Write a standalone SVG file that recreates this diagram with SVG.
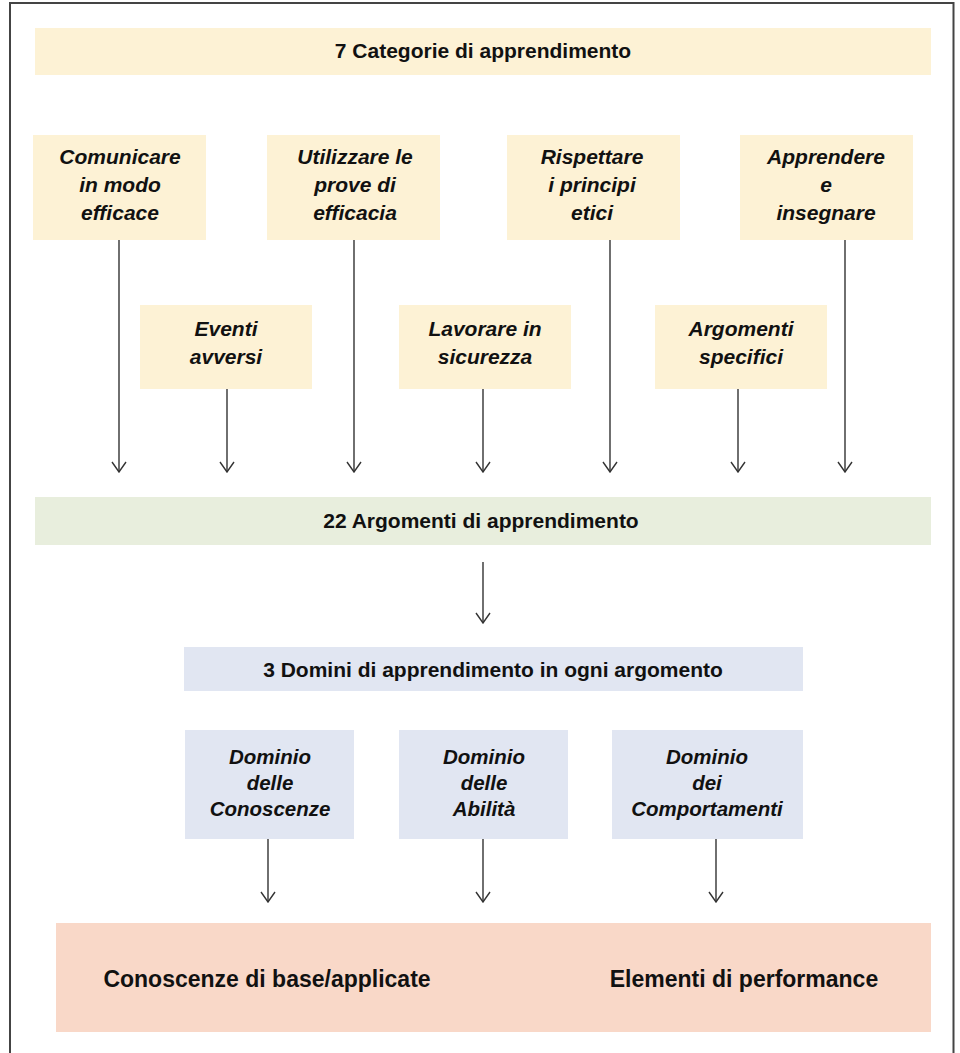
<svg xmlns="http://www.w3.org/2000/svg" width="960" height="1053" viewBox="0 0 960 1053">
<style>
.t{font-family:"Liberation Sans",Arial,sans-serif;font-weight:bold;fill:#111;text-anchor:middle}
.h{font-size:21px}
.i{font-size:21px;font-style:italic}
.d{font-size:20.5px;font-style:italic}
.p{font-size:23px}
.y{fill:#fdf2d5}
.g{fill:#e8eedd}
.b{fill:#e1e6f2}
.k{fill:#f9d8c8}
.c{stroke:#333;stroke-width:1.4;fill:none}
</style>
<defs>
<marker id="ah" viewBox="0 0 16 12" refX="8" refY="11" markerWidth="16" markerHeight="12" markerUnits="userSpaceOnUse" orient="0">
<path d="M1,1 L8,11 L15,1" fill="none" stroke="#333" stroke-width="1.4"/>
</marker>
</defs>
<rect x="0" y="0" width="960" height="1053" fill="#fff"/>
<path d="M10,1060 V3 H953.5 V1060" fill="none" stroke="#444" stroke-width="2"/>

<g id="cat7"><rect class="y" x="35" y="28" width="896" height="47"/><text class="t h" x="483" y="58">7 Categorie di apprendimento</text></g>

<g id="comunicare"><rect class="y" x="33" y="135" width="173" height="105"/><text class="t i" x="120"><tspan x="120" y="164">Comunicare</tspan><tspan x="120" y="192">in modo</tspan><tspan x="120" y="220">efficace</tspan></text></g>
<g id="utilizzare"><rect class="y" x="267" y="135" width="173" height="105"/><text class="t i" x="355"><tspan x="355" y="164">Utilizzare le</tspan><tspan x="355" y="192">prove di</tspan><tspan x="355" y="220">efficacia</tspan></text></g>
<g id="rispettare"><rect class="y" x="507" y="135" width="173" height="105"/><text class="t i" x="592"><tspan x="592" y="164">Rispettare</tspan><tspan x="592" y="192">i principi</tspan><tspan x="592" y="220">etici</tspan></text></g>
<g id="apprendere"><rect class="y" x="740" y="135" width="173" height="105"/><text class="t i" x="826"><tspan x="826" y="164">Apprendere</tspan><tspan x="826" y="192">e</tspan><tspan x="826" y="220">insegnare</tspan></text></g>

<g id="eventi"><rect class="y" x="140" y="305" width="172" height="84"/><text class="t i" x="226"><tspan x="226" y="336">Eventi</tspan><tspan x="226" y="364">avversi</tspan></text></g>
<g id="lavorare"><rect class="y" x="399" y="305" width="172" height="84"/><text class="t i" x="485"><tspan x="485" y="336">Lavorare in</tspan><tspan x="485" y="364">sicurezza</tspan></text></g>
<g id="argomenti"><rect class="y" x="655" y="305" width="172" height="84"/><text class="t i" x="741"><tspan x="741" y="336">Argomenti</tspan><tspan x="741" y="364">specifici</tspan></text></g>

<g id="arg22"><rect class="g" x="35" y="497" width="896" height="48"/><text class="t h" x="481" y="528">22 Argomenti di apprendimento</text></g>

<g id="domini3"><rect class="b" x="184" y="647" width="619" height="44"/><text class="t h" x="493" y="677">3 Domini di apprendimento in ogni argomento</text></g>

<g id="conoscenze"><rect class="b" x="185" y="730" width="169" height="109"/><text class="t d" x="270"><tspan x="270" y="764">Dominio</tspan><tspan x="270" y="790">delle</tspan><tspan x="270" y="816">Conoscenze</tspan></text></g>
<g id="abilita"><rect class="b" x="399" y="730" width="169" height="109"/><text class="t d" x="484"><tspan x="484" y="764">Dominio</tspan><tspan x="484" y="790">delle</tspan><tspan x="484" y="816">Abilità</tspan></text></g>
<g id="comportamenti"><rect class="b" x="612" y="730" width="191" height="109"/><text class="t d" x="707"><tspan x="707" y="764">Dominio</tspan><tspan x="707" y="790">dei</tspan><tspan x="707" y="816">Comportamenti</tspan></text></g>

<g id="output"><rect class="k" x="56" y="923" width="875" height="109"/><text class="t p" x="267" y="987">Conoscenze di base/applicate</text><text class="t p" x="744" y="987">Elementi di performance</text></g>

<g id="connectors">
<line class="c" x1="119" y1="240" x2="119" y2="472" marker-end="url(#ah)"/>
<line class="c" x1="354" y1="240" x2="354" y2="472" marker-end="url(#ah)"/>
<line class="c" x1="610" y1="240" x2="610" y2="472" marker-end="url(#ah)"/>
<line class="c" x1="845" y1="240" x2="845" y2="472" marker-end="url(#ah)"/>
<line class="c" x1="227" y1="389" x2="227" y2="472" marker-end="url(#ah)"/>
<line class="c" x1="483" y1="389" x2="483" y2="472" marker-end="url(#ah)"/>
<line class="c" x1="738" y1="389" x2="738" y2="472" marker-end="url(#ah)"/>
<line class="c" x1="483" y1="562" x2="483" y2="623" marker-end="url(#ah)"/>
<line class="c" x1="268" y1="839" x2="268" y2="902" marker-end="url(#ah)"/>
<line class="c" x1="483" y1="839" x2="483" y2="902" marker-end="url(#ah)"/>
<line class="c" x1="716" y1="839" x2="716" y2="902" marker-end="url(#ah)"/>
</g>
</svg>
